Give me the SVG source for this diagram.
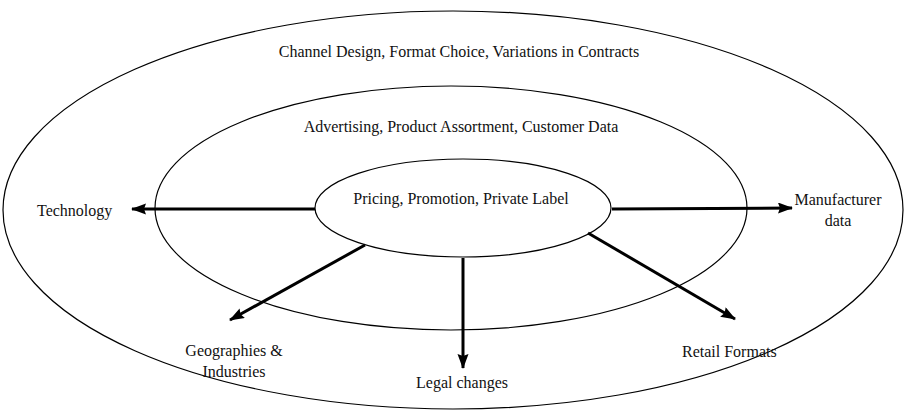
<svg xmlns="http://www.w3.org/2000/svg" width="906" height="412" viewBox="0 0 906 412">
<style>
.ring{fill:none;stroke:#000;stroke-width:1.2}
.t{font-family:"Liberation Serif","Times New Roman",serif;font-size:16px;fill:#111}
.c{text-anchor:middle}
.arr{stroke:#000;stroke-width:3;fill:none;marker-end:url(#ah)}
</style>
<defs>
<marker id="ah" markerUnits="userSpaceOnUse" markerWidth="16" markerHeight="12" refX="14" refY="5.5" orient="auto">
<path d="M0,0 L15,5.5 L0,11 L2,5.5 Z" fill="#000"/>
</marker>
</defs>
<rect width="906" height="412" fill="#fff"/>
<g id="outer">
<ellipse class="ring" cx="453" cy="210" rx="450" ry="199"/>
<text class="t c" x="459" y="57">Channel Design, Format Choice, Variations in Contracts</text>
</g>
<g id="middle">
<ellipse class="ring" cx="451" cy="208" rx="296" ry="122"/>
<text class="t c" x="461" y="132">Advertising, Product Assortment, Customer Data</text>
</g>
<g id="inner">
<ellipse class="ring" cx="463" cy="208" rx="148" ry="49"/>
<text class="t c" x="461" y="204">Pricing, Promotion, Private Label</text>
</g>
<g id="connectors">
<line class="arr" x1="315" y1="209" x2="132" y2="209"/>
<line class="arr" x1="612" y1="209" x2="792" y2="208"/>
<line class="arr" x1="365" y1="245" x2="230" y2="320"/>
<line class="arr" x1="463" y1="258" x2="463" y2="368"/>
<line class="arr" x1="588" y1="233" x2="735" y2="319"/>
</g>
<g id="technology"><text class="t" x="37" y="216">Technology</text></g>
<g id="manufacturer"><text class="t c" x="838" y="205">Manufacturer</text><text class="t c" x="838" y="226">data</text></g>
<g id="geographies"><text class="t c" x="234" y="356">Geographies &amp;</text><text class="t c" x="234" y="377">Industries</text></g>
<g id="legal"><text class="t c" x="462" y="388">Legal changes</text></g>
<g id="retail"><text class="t" x="682" y="357">Retail Formats</text></g>
</svg>
